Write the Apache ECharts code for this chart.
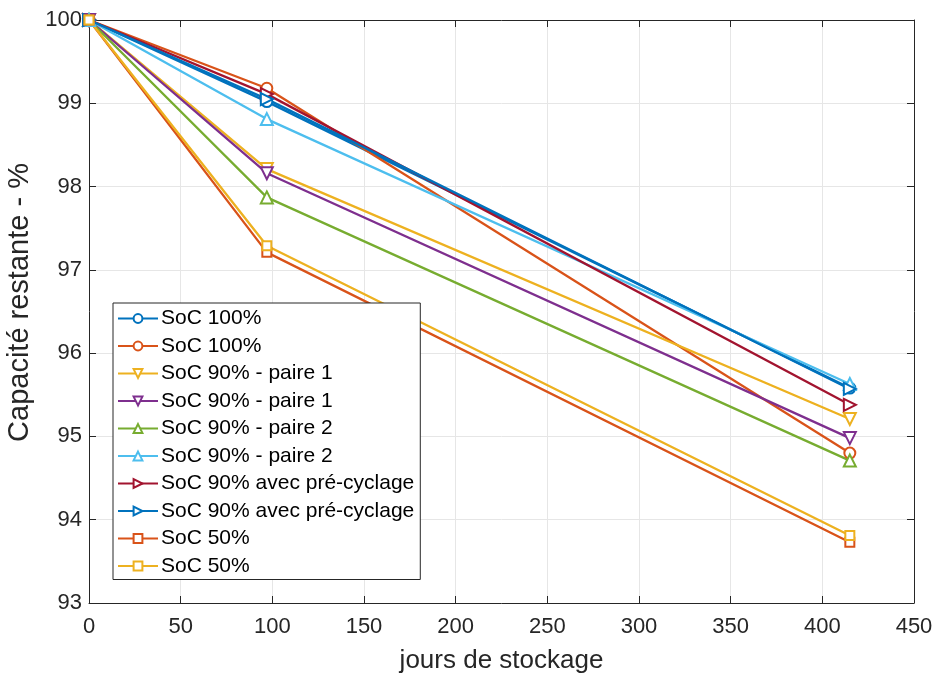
<!DOCTYPE html>
<html><head><meta charset="utf-8">
<script src="https://cdn.jsdelivr.net/npm/echarts@6/dist/echarts.min.js"></script>
<style>html,body{margin:0;padding:0;background:#fff}#c{width:938px;height:675px}</style>
</head><body><div id="c"></div>
<script>
const days = [0, 97, 415];
const names = ['SoC 100%','SoC 100%','SoC 90% - paire 1','SoC 90% - paire 1','SoC 90% - paire 2','SoC 90% - paire 2','SoC 90% avec pré-cyclage','SoC 90% avec pré-cyclage','SoC 50%','SoC 50%'];
const soc100a = [100, 99.02, 95.58];
const soc100b = [100, 99.18, 94.80];
const soc90p1a = [100, 98.21, 95.21];
const soc90p1b = [100, 98.16, 94.98];
const soc90p2a = [100, 97.87, 94.71];
const soc90p2b = [100, 98.81, 95.63];
const soc90pca = [100, 99.11, 95.38];
const soc90pcb = [100, 99.05, 95.57];
const soc50a = [100, 97.21, 93.73];
const soc50b = [100, 97.29, 93.81];
const xTicks = [0, 450, 50];
const yTicks = [93, 100, 1];

const values = [soc100a, soc100b, soc90p1a, soc90p1b, soc90p2a, soc90p2b, soc90pca, soc90pcb, soc50a, soc50b];
const colors = ['#0072BD','#D95319','#EDB120','#7E2F8E','#77AC30','#4DBEEE','#A2142F','#0072BD','#D95319','#EDB120'];
const symbols = ['emptyCircle','emptyCircle','emptyTriangle','emptyTriangle','emptyTriangle','emptyTriangle','emptyTriangle','emptyTriangle','emptyRect','emptyRect'];
const rotates = [0,0,180,180,0,0,-90,-90,0,0];
const sizes = [11,11,12,12,12,12,12,12,9,9];

const font = 'Liberation Sans, Arial, sans-serif';
const series = values.map((v, i) => ({
  name: names[i] + '\u200b'.repeat(i % 2),
  type: 'line',
  data: v.map((y, k) => [days[k], y]),
  symbol: symbols[i],
  symbolRotate: rotates[i],
  symbolSize: sizes[i],
  showAllSymbol: true,
  lineStyle: { color: colors[i], width: 2.3 },
  itemStyle: { color: colors[i], borderWidth: 1.8 },
  z: 3
}));

const axisCommon = {
  axisLine: { show: true, onZero: false, lineStyle: { color: '#262626', width: 1 } },
  axisTick: { show: true, inside: true, length: 7, lineStyle: { color: '#262626' } }
};

const chart = echarts.init(document.getElementById('c'), null, { renderer: 'canvas' });
chart.setOption({
  animation: false,
  color: colors,
  grid: { left: 89, right: 24, top: 20, bottom: 72, show: false, containLabel: false, outerBoundsMode: 'none' },
  xAxis: [Object.assign({
    type: 'value', min: xTicks[0], max: xTicks[1], interval: xTicks[2],
    name: 'jours de stockage', nameLocation: 'middle', nameGap: 45,
    nameTextStyle: { fontSize: 26, color: '#262626', fontFamily: font },
    axisLabel: { fontSize: 22, color: '#262626', fontFamily: font, margin: 13 },
    splitLine: { show: true, lineStyle: { color: '#e6e6e6', width: 1 } }
  }, axisCommon), Object.assign({
    type: 'value', position: 'top', min: xTicks[0], max: xTicks[1], interval: xTicks[2],
    axisLabel: { show: false }, splitLine: { show: false }
  }, axisCommon)],
  yAxis: [Object.assign({
    type: 'value', min: yTicks[0], max: yTicks[1], interval: yTicks[2],
    name: 'Capacité restante - %', nameLocation: 'middle', nameGap: 52,
    nameTextStyle: { fontSize: 29, color: '#262626', fontFamily: font, padding: [0, 0, 0, 18] },
    axisLabel: { fontSize: 22, color: '#262626', fontFamily: font, margin: 7 },
    splitLine: { show: true, lineStyle: { color: '#e6e6e6', width: 1 } }
  }, axisCommon), Object.assign({
    type: 'value', position: 'right', min: yTicks[0], max: yTicks[1], interval: yTicks[2],
    axisLabel: { show: false }, splitLine: { show: false }
  }, axisCommon)],
  legend: {
    orient: 'vertical', left: 113, top: 303,
    backgroundColor: '#fff', borderColor: '#262626', borderWidth: 1,
    padding: [5, 6, 3, 4], itemGap: 6.5, itemWidth: 40, itemHeight: 11,
    textStyle: { fontSize: 21, color: '#000', fontFamily: font, padding: [0, 0, 0, -2] },
    data: series.map(s => s.name),
    formatter: n => n.replace(/\u200b/g, '')
  },
  series: series
});
</script></body></html>
